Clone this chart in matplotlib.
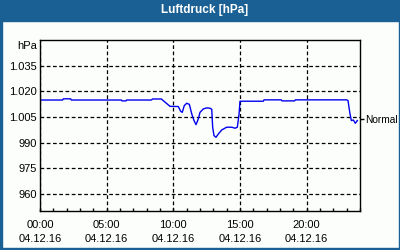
import matplotlib
matplotlib.use("Agg")
import matplotlib.pyplot as plt
from matplotlib.patches import Rectangle
from matplotlib.ticker import MultipleLocator

# ---- data ----
hours = [0, 1.7, 1.75, 2.3, 2.35, 6.1, 6.15, 6.45, 6.5, 8.35, 8.45, 9.1, 9.75,
         10.37, 10.55, 10.67, 10.82, 11.0, 11.2, 11.38, 11.55, 11.7, 11.87, 12.0,
         12.25, 12.5, 12.75, 12.88, 12.95, 13.05, 13.2, 13.37, 13.63, 14.0, 14.38,
         14.63, 14.8, 14.93, 15.0, 16.75, 16.8, 18.1, 18.15, 19.1, 19.15, 23.0,
         23.1, 23.25, 23.35, 23.5, 23.65, 23.8]
pressure = [1014.9, 1014.9, 1015.6, 1015.6, 1014.9, 1014.9, 1014.4, 1014.4, 1014.9,
            1014.9, 1015.5, 1015.5, 1011.2, 1011.1, 1008.3, 1007.7, 1011.6, 1013.0,
            1012.4, 1006.8, 1002.9, 1000.5, 1003.8, 1007.7, 1009.7, 1010.3, 1010.1,
            1009.5, 999.0, 994.1, 993.1, 995.0, 997.4, 999.0, 999.0, 998.4, 999.0,
            1006.8, 1014.2, 1014.2, 1015.0, 1015.0, 1014.4, 1014.4, 1015.0, 1015.0,
            1014.6, 1006.8, 1002.9, 1003.2, 1001.3, 1002.9]

y_ticks = [960, 975, 990, 1005, 1020, 1035]
y_labels = ["960", "975", "990", "1.005", "1.020", "1.035"]
x_ticks = [0, 5, 10, 15, 20]
x_labels = ["00:00\n04.12.16", "05:00\n04.12.16", "10:00\n04.12.16",
            "15:00\n04.12.16", "20:00\n04.12.16"]
normal_value = 1004.0
normal_label = "Normal"
title = "Luftdruck [hPa]"
unit = "hPa"

BLUE = "#1b6094"
plt.rcParams["font.family"] = ["Liberation Sans", "DejaVu Sans"]

fig = plt.figure(figsize=(4, 2.5), dpi=100, facecolor="#fcfefc")
ax = fig.add_axes([40/400, 1-211/250, 320/400, 171/250])
ax.set_facecolor("#fcfefc")

ax.plot(hours, pressure, color="#0000ee", lw=1.0)

ax.set_xlim(0, 24)
ax.set_ylim(950, 1050)
ax.set_yticks(y_ticks)
ax.set_yticklabels(y_labels)
ax.set_xticks(x_ticks)
ax.set_xticklabels(x_labels, linespacing=1.45)
ax.xaxis.set_minor_locator(MultipleLocator(1))

ax.tick_params(axis="y", length=0, pad=2.5, labelsize=8, colors="black")
ax.tick_params(axis="x", which="both", direction="in", length=2.5, width=1,
               pad=6.5, labelsize=8)
ax.grid(True, which="major", color="black", lw=0.9, linestyle=(0, (3, 2)))
for s in ax.spines.values():
    s.set_linewidth(1.0)
    s.set_color("black")

ax2 = ax.twinx()
ax2.set_ylim(ax.get_ylim())
ax2.set_yticks([normal_value])
ax2.set_yticklabels([normal_label])
ax2.tick_params(axis="y", direction="out", length=3, width=1, pad=0.5, labelsize=7.3)
for s in ax2.spines.values():
    s.set_visible(False)

fig.text(37/400, 1-46/250, unit, ha="right", va="center", fontsize=8)

# title bar and border
fig.patches.append(Rectangle((0, 1-21/250), 1, 21/250, transform=fig.transFigure,
                             color=BLUE, zorder=0))
fig.patches.append(Rectangle((0, 0), 2/400, 1, transform=fig.transFigure, color=BLUE))
fig.patches.append(Rectangle((1-1.5/400, 0), 1.5/400, 1, transform=fig.transFigure, color=BLUE))
fig.patches.append(Rectangle((0, 0), 1, 2.5/250, transform=fig.transFigure, color=BLUE))
fig.text(205/400, 1-10.5/250, title, ha="center", va="center", fontsize=8.5,
         fontweight="bold", color="white")

fig.savefig("out.png", dpi=100, facecolor=fig.get_facecolor())
